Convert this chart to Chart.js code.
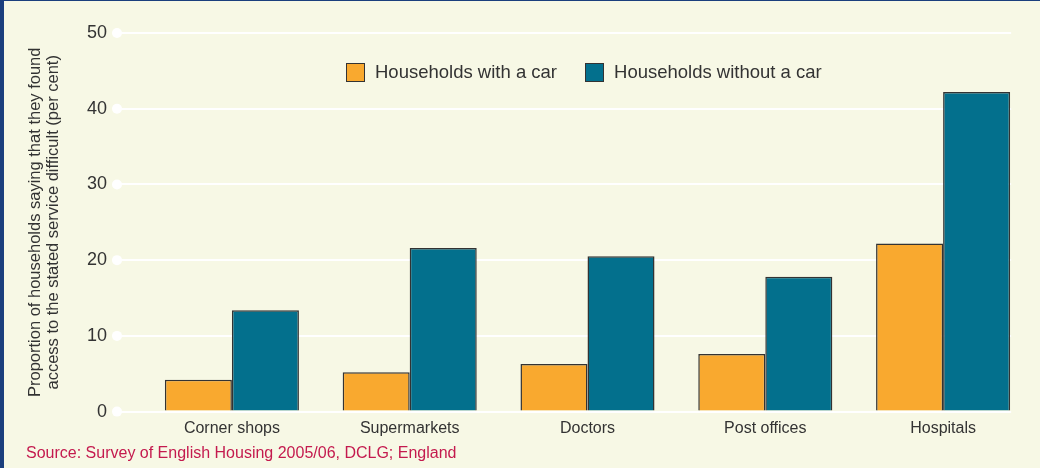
<!doctype html>
<html lang="en">
  <head>
    <meta charset="UTF-8" />
    <title>Access to services</title>
    <script src="https://cdn.jsdelivr.net/npm/chart.js"></script>
    <style>
      body { margin: 0; background: #f7f8e5; }
      #frame {
        position: absolute; left: 0; top: 0;
        width: 1040px; height: 468px; box-sizing: border-box;
        border-left: 4px solid #1b3f7d; border-top: 1px solid #1b3f7d;
        background: #f7f8e5;
      }
      #legend {
        position: absolute; left: 346px; top: 62px;
        display: flex; align-items: center;
        font-family: 'Liberation Sans', Arial, sans-serif; font-size: 18.5px;
        color: #333333; line-height: 20px;
      }
      #legend .item { display: flex; align-items: center; margin-right: 28px; }
      #legend .box {
        width: 19px; height: 19px; box-sizing: border-box;
        border: 1.5px solid #333333; margin-right: 10px;
      }
    </style>
  </head>
  <body>
    <div id="frame">
      <canvas id="servicesChart" width="1036" height="467"></canvas>
    </div>
    <div id="legend"></div>

    <script>
      // data
      var categories = ["Corner shops", "Supermarkets", "Doctors", "Post offices", "Hospitals"];
      var withCar = [4.2, 5.2, 6.3, 7.6, 22.2];
      var withoutCar = [13.4, 21.6, 20.5, 17.8, 42.2];
      var seriesNames = ["Households with a car", "Households without a car"];
      var yTicks = [0, 10, 20, 30, 40, 50];
      var yTitle = [
        "Proportion of households saying that they found",
        "access to the stated service difficult (per cent)",
      ];
      var source = "Source: Survey of English Housing 2005/06, DCLG; England";

      var bg = "#f7f8e5";
      var ink = "#333333";
      var fontFamily = "'Liberation Sans', Arial, sans-serif";

      // white dots at the left end of each gridline, and trim the lines past the last bar
      var gridDots = {
        id: "gridDots",
        beforeDatasetsDraw: function (chart) {
          var ctx = chart.ctx;
          var y = chart.scales.y;
          var area = chart.chartArea;
          var tl = y.options.grid.tickLength;
          ctx.save();
          var meta = chart.getDatasetMeta(1);
          var last = meta.data[meta.data.length - 1];
          var edge = last.x + last.width / 2;
          ctx.fillStyle = bg;
          ctx.fillRect(edge + 1, area.top - 3, area.right - edge + 3, area.bottom - area.top + 6);
          ctx.fillStyle = "#ffffff";
          y.ticks.forEach(function (t) {
            var py = y.getPixelForValue(t.value);
            ctx.beginPath();
            ctx.arc(area.left - tl, py, 5, 0, Math.PI * 2);
            ctx.fill();
          });
          ctx.restore();
        },
      };

      var ctx1 = document.getElementById("servicesChart").getContext("2d");
      var servicesChart = new Chart(ctx1, {
        type: "bar",
        data: {
          labels: categories,
          datasets: [
            {
              label: seriesNames[0],
              data: withCar,
              backgroundColor: "#f9a92f",
              borderColor: ink,
              borderWidth: 1.5,
            },
            {
              label: seriesNames[1],
              data: withoutCar,
              backgroundColor: "#03708d",
              borderColor: ink,
              borderWidth: 1.5,
            },
          ],
        },
        options: {
          responsive: false,
          maintainAspectRatio: false,
          animation: false,
          layout: { padding: { left: 22, right: 8, top: 32, bottom: 0 } },
          datasets: {
            bar: { categoryPercentage: 0.754, barPercentage: 1 },
          },
          plugins: {
            legend: { display: false },
            title: {
              display: true,
              position: "bottom",
              align: "start",
              text: source,
              color: "#c41a4e",
              font: { family: fontFamily, size: 16, weight: "normal" },
              padding: { top: -1, bottom: 5 },
            },
            tooltip: { enabled: false },
          },
          scales: {
            x: {
              grid: { display: false, drawTicks: false },
              border: { display: false },
              ticks: {
                color: ink,
                padding: 7,
                font: { family: fontFamily, size: 16 },
              },
            },
            y: {
              min: 0,
              max: 50,
              afterBuildTicks: function (scale) {
                scale.ticks = yTicks.map(function (v) { return { value: v }; });
              },
              afterFit: function (scale) {
                scale.width = 117;
              },
              grid: {
                color: "#ffffff",
                lineWidth: 2,
                drawTicks: true,
                tickLength: 26,
              },
              border: { display: false },
              ticks: {
                color: ink,
                padding: 10,
                font: { family: fontFamily, size: 18 },
              },
              title: {
                display: true,
                text: yTitle,
                color: ink,
                font: { family: fontFamily, size: 16.5, lineHeight: 1.1 },
                padding: { top: 0, bottom: 0 },
              },
            },
          },
        },
        plugins: [gridDots],
      });

      // legend built from the datasets
      var legendEl = document.getElementById("legend");
      servicesChart.data.datasets.forEach(function (ds) {
        var item = document.createElement("div");
        item.className = "item";
        var box = document.createElement("span");
        box.className = "box";
        box.style.background = ds.backgroundColor;
        var label = document.createElement("span");
        label.textContent = ds.label;
        item.appendChild(box);
        item.appendChild(label);
        legendEl.appendChild(item);
      });
    </script>
  </body>
</html>
